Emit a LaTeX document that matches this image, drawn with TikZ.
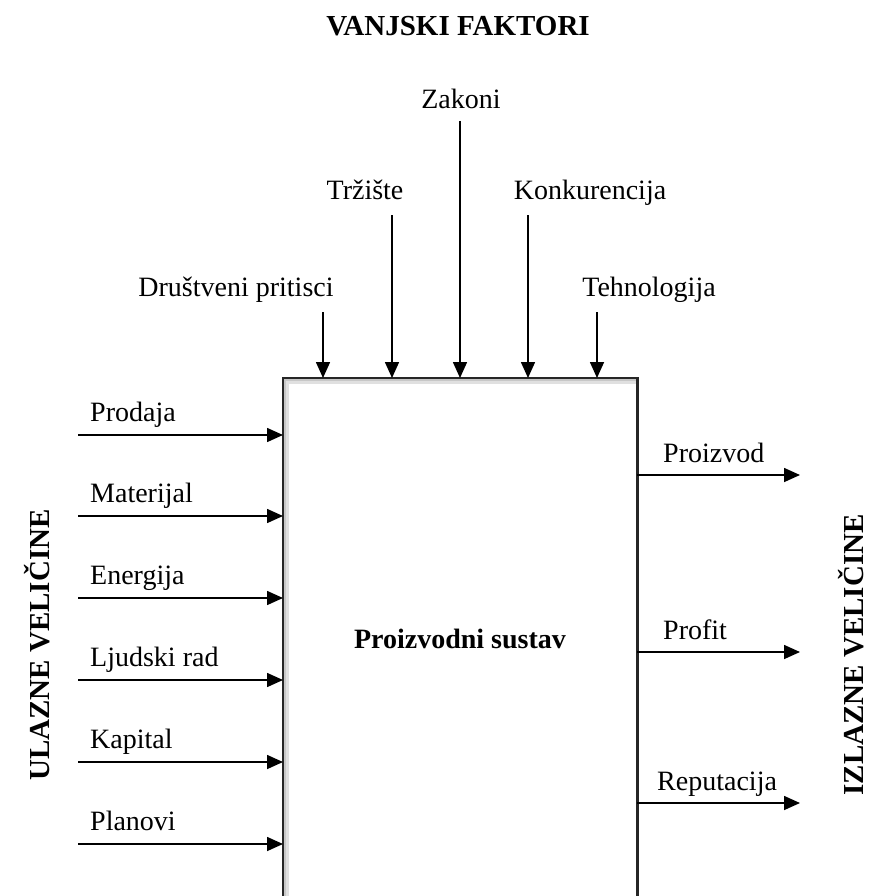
\documentclass[tikz,border=0pt]{standalone}
\usepackage{fontspec}
\setmainfont{Liberation Serif}
\usetikzlibrary{arrows.meta}
\begin{document}
\begin{tikzpicture}[x=1pt,y=-1pt,
  lbl/.style={font=\fontsize{28}{32}\selectfont, inner sep=0pt},
  ttl/.style={font=\fontsize{29}{33}\selectfont\bfseries, inner sep=0pt},
  side/.style={font=\fontsize{29}{33}\selectfont\bfseries, inner sep=0pt, rotate=90, anchor=base},
  ctr/.style={font=\fontsize{28}{32}\selectfont\bfseries, inner sep=0pt},
  arr/.style={line width=1.6pt, -{Triangle[length=16pt,width=14pt]}},
  edge/.style={line width=2.2pt, draw=black!85},
]
\useasboundingbox (0,0) rectangle (868,896);
% system box (open at the bottom of the picture)
\node[minimum width=354pt, minimum height=518pt, inner sep=0pt, anchor=north west] (box) at (283,378) {};
\fill[black!12] ([xshift=1pt]box.south west) rectangle ([xshift=6pt,yshift=-1pt]box.north west);
\fill[black!12] ([xshift=1pt,yshift=-1pt]box.north west) rectangle ([yshift=-6pt]box.north east);
\fill[black!22] ([xshift=1pt]box.south west) rectangle ([xshift=3pt,yshift=-1pt]box.north west);
\fill[black!22] ([xshift=1pt,yshift=-1pt]box.north west) rectangle ([yshift=-3pt]box.north east);
\draw[edge] (box.south west) -- (box.north west) -- (box.north east) -- (box.south east);
\node[ctr, anchor=base] (sys) at (460,648) {Proizvodni sustav};

% titles
\node[ttl, anchor=base] (vf) at (458,36) {VANJSKI FAKTORI};
\node[side] (ul) at (49,645) {ULAZNE VELIČINE};
\node[side] (iz) at (863,655) {IZLAZNE VELIČINE};

% external factors
\node[lbl, anchor=base] (zak) at (461,109) {Zakoni};
\node[lbl, anchor=base] (trz) at (365,199) {Tržište};
\node[lbl, anchor=base] (kon) at (590,199) {Konkurencija};
\node[lbl, anchor=base] (dru) at (236,296) {Društveni pritisci};
\node[lbl, anchor=base] (teh) at (649,296) {Tehnologija};
\coordinate (czak) at (460,121);
\coordinate (ctrz) at (392,215);
\coordinate (ckon) at (528,215);
\coordinate (cdru) at (323,312);
\coordinate (cteh) at (597,312);
\foreach \c in {czak,ctrz,ckon,cdru,cteh}
  \draw[arr] (\c) -- (\c |- box.north);

% inputs
\foreach \n/\t/\y in {i1/Prodaja/435, i2/Materijal/516, i3/Energija/598, i4/Ljudski rad/680, i5/Kapital/762, i6/Planovi/844}{
  \coordinate (\n) at (78,\y);
  \node[lbl, anchor=base west] (\n l) at (90,\y-14) {\t};
  \draw[arr] (\n) -- (\n -| box.west);
}

% outputs
\foreach \n/\t/\y/\x in {o1/Proizvod/475/663, o2/Profit/652/663, o3/Reputacija/803/657}{
  \coordinate (\n) at (800,\y);
  \node[lbl, anchor=base west] (\n l) at (\x,\y-13) {\t};
  \draw[arr] (\n -| box.east) -- (\n);
}
\end{tikzpicture}
\end{document}
